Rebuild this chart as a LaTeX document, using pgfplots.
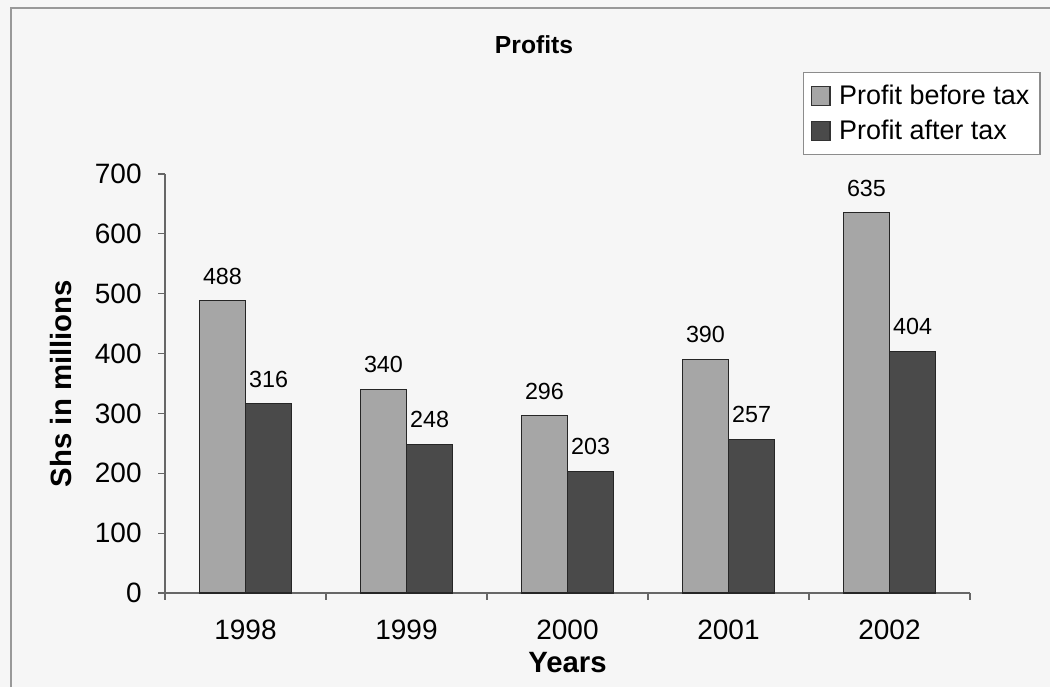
\documentclass[border=0pt]{standalone}
\usepackage{fontspec}
\setmainfont{Liberation Sans}
\usepackage{pgfplots}
\pgfplotsset{compat=1.18}
\definecolor{barlight}{HTML}{A6A6A6}
\definecolor{bardark}{HTML}{4A4A4A}
\definecolor{bg}{HTML}{F6F6F6}
\begin{document}
\begin{tikzpicture}
\path[use as bounding box, fill=bg] (0,0) rectangle (787.5pt,515.25pt);
\draw[black!40, line width=1.2pt] (8.25pt,0pt) -- (8.25pt,509.25pt) -- (787.5pt,509.25pt);
\begin{axis}[
  at={(123.75pt,70.5pt)}, anchor=south west,
  scale only axis, width=603.75pt, height=314.25pt,
  xmin=-0.5, xmax=4.5, ymin=0, ymax=700,
  ybar=0pt, bar width=0.286,
  xtick={0,1,2,3,4}, xticklabels={1998,1999,2000,2001,2002},
  minor xtick={-0.5,0.5,1.5,2.5,3.5,4.5},
  ytick={0,100,...,700},
  axis x line*=bottom, axis y line*=left,
  tick align=outside, major tick length=5pt, minor tick length=5pt,
  major x tick style={draw=none},
  tick style={black!60, line width=0.8pt},
  axis line style={black!60, line width=0.8pt},
  ticklabel style={font=\fontsize{21}{24}\selectfont},
  /pgf/number format/assume math mode=true,
  xticklabel style={yshift=-12pt},
  yticklabel style={xshift=-9pt},
  nodes near coords,
  nodes near coords style={font=\fontsize{17.5}{20}\selectfont, inner sep=0pt, anchor=south, yshift=12pt, text=black},
  title={Profits},
  title style={font=\bfseries\fontsize{18.5}{21}\selectfont, at={(axis description cs:0.4584,1.29)}, anchor=center, yshift=0pt},
  xlabel={Years},
  xlabel style={font=\bfseries\fontsize{22}{25}\selectfont, at={(axis description cs:0.5,-0.167)}, anchor=center},
  ylabel={Shs in millions},
  ylabel style={font=\bfseries\fontsize{22}{25}\selectfont, at={(axis description cs:-0.1292,0.5)}, anchor=center, rotate=0},
  legend style={at={(axis description cs:0.7925,1.2434)}, anchor=north west,
    draw=black!45, fill=white, line width=0.8pt,
    font=\fontsize{20.2}{23}\selectfont, inner xsep=5.5pt, inner ysep=9pt,
    nodes={inner xsep=2.5pt, inner ysep=0pt, text height=15pt, text depth=2pt}, row sep=9.25pt, column sep=4pt},
  legend cell align=left,
  legend image code/.code={\draw[#1, draw=black!80, line width=0.8pt] (0pt,-7pt) rectangle (14pt,7pt);},
]
\addplot[fill=barlight, draw=black!85, line width=0.8pt] coordinates {(0,488) (1,340) (2,296) (3,390) (4,635)};
\addplot[fill=bardark, draw=black!85, line width=0.8pt] coordinates {(0,316) (1,248) (2,203) (3,257) (4,404)};
\legend{Profit before tax, Profit after tax}
\end{axis}
\end{tikzpicture}
\end{document}
